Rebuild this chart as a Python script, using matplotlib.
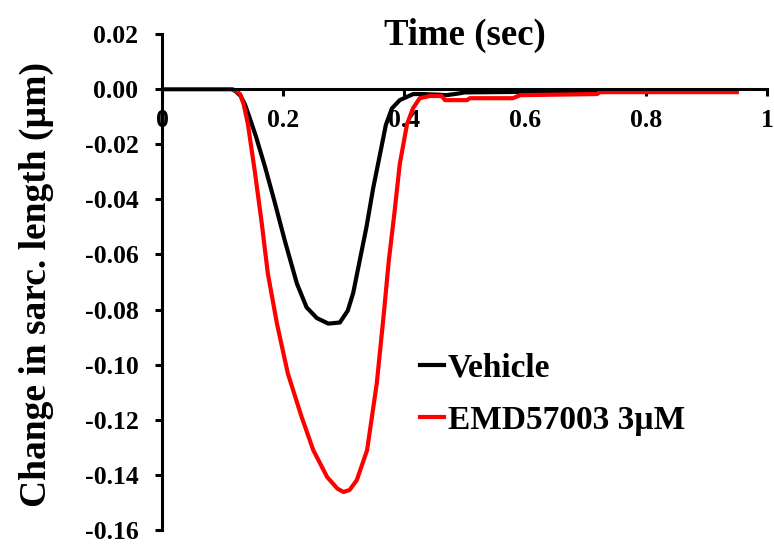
import numpy as np
import matplotlib
matplotlib.use('Agg')
import matplotlib.pyplot as plt
from matplotlib.ticker import FuncFormatter

plt.rcParams['font.family'] = ['Liberation Serif', 'DejaVu Serif']
plt.rcParams['font.weight'] = 'bold'
plt.rcParams['axes.unicode_minus'] = False

# time (sec) and change in sarcomere length (um)
t_vehicle = [0, 0.115, 0.122, 0.130, 0.137, 0.145, 0.155, 0.170, 0.185, 0.203, 0.223, 0.239,
             0.256, 0.275, 0.294, 0.307, 0.316, 0.327, 0.338, 0.349, 0.360, 0.370,
             0.380, 0.393, 0.415, 0.431, 0.455, 0.470, 0.490, 0.500, 0.600, 0.800, 0.950]
vehicle = [0, 0, -0.0008, -0.0025, -0.0055, -0.0105, -0.0170, -0.0280, -0.0400, -0.0550,
           -0.0706, -0.0792, -0.0831, -0.0851, -0.0847, -0.0804, -0.0740, -0.0620, -0.0500,
           -0.0360, -0.0240, -0.0130, -0.0070, -0.0040, -0.0018, -0.0018, -0.0020, -0.0022,
           -0.0016, -0.0012, -0.0010, -0.0008, -0.0005]

t_emd = [0, 0.115, 0.122, 0.129, 0.135, 0.142, 0.154, 0.165, 0.175, 0.190, 0.208, 0.231,
         0.250, 0.273, 0.290, 0.300, 0.310, 0.322, 0.339, 0.355, 0.366, 0.375, 0.384,
         0.393, 0.405, 0.415, 0.426, 0.443, 0.462, 0.468, 0.504, 0.509, 0.580, 0.592,
         0.719, 0.724, 0.950]
emd = [0, 0, -0.0005, -0.0018, -0.0055, -0.0127, -0.0308, -0.0489, -0.0670, -0.0851,
       -0.1032, -0.1191, -0.1310, -0.1408, -0.1450, -0.1462, -0.1455, -0.1419, -0.1310,
       -0.1068, -0.0829, -0.0620, -0.0453, -0.0272, -0.0127, -0.0069, -0.0033, -0.0025,
       -0.0025, -0.0040, -0.0040, -0.0033, -0.0033, -0.0022, -0.0018, -0.0011, -0.0011]

x_ticks = [0, 0.2, 0.4, 0.6, 0.8, 1]
x_labels = ['0', '0.2', '0.4', '0.6', '0.8', '1']
y_ticks = np.arange(-0.16, 0.021, 0.02)

fig = plt.figure(figsize=(7.74, 5.45), dpi=100)
ax = fig.add_axes([162 / 774, 1 - 530 / 545, 605 / 774, 496 / 545])

ax.plot(t_vehicle, vehicle, color='black', lw=3, label='Vehicle')
ax.plot(t_emd, emd, color='#ff0000', lw=3, label='EMD57003 3\u00b5M')

ax.set_xlim(0, 1)
ax.set_ylim(-0.16, 0.02)
ax.spines['top'].set_visible(False)
ax.spines['right'].set_visible(False)
ax.spines['bottom'].set_position(('data', 0))
for s in ['left', 'bottom']:
    ax.spines[s].set_linewidth(2.2)

ax.set_xticks(x_ticks)
ax.set_xticklabels(x_labels)
ax.set_yticks(y_ticks)
ax.yaxis.set_major_formatter(FuncFormatter(lambda v, p: '%.2f' % (0.0 if abs(v) < 1e-9 else v)))
ax.tick_params(axis='both', labelsize=18.5, width=2.2, length=5, direction='out')
ax.tick_params(axis='x', pad=9)
ax.tick_params(axis='y', pad=12)

ax.text(0.5, 0.998, 'Time (sec)', transform=ax.transAxes, ha='center', va='center',
        fontsize=26.5, fontweight='bold')
ax.set_ylabel('Change in sarc. length (\u00b5m)', fontsize=27, fontweight='bold')
ax.yaxis.set_label_coords(-0.178, 0.494)

ax.legend(loc='upper left', bbox_to_anchor=(0.405, 0.384), frameon=False,
          fontsize=24, handlelength=0.72, handletextpad=0.1, labelspacing=0.62,
          borderaxespad=0)

fig.savefig('out.png', dpi=100)
